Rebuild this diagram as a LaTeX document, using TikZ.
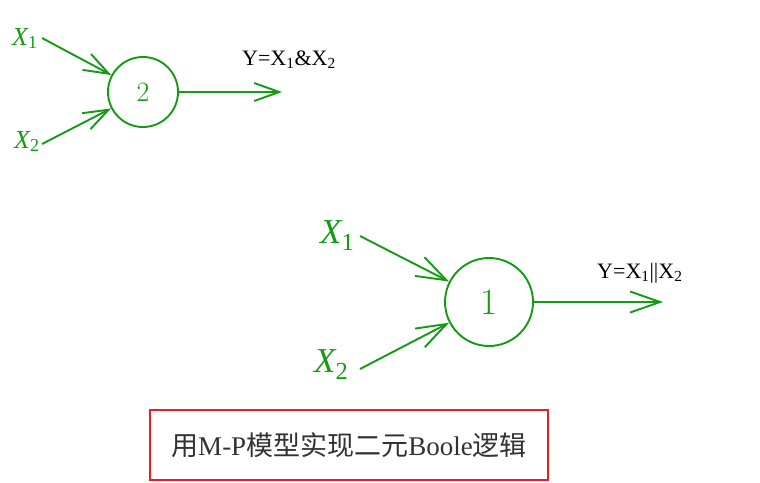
\documentclass[tikz,border=0pt]{standalone}
\usepackage{fontspec}
\setmainfont{Liberation Serif}
\newfontfamily\cjk{Noto Sans CJK SC}
\newfontfamily\lmfont{Latin Modern Roman}
\usetikzlibrary{arrows.meta}
\definecolor{mpgreen}{RGB}{20,155,20}
\definecolor{mpred}{RGB}{230,30,40}
\definecolor{mptext}{RGB}{50,50,50}
\newcommand{\xsub}[1]{\textsubscript{\upshape #1}}
\begin{document}
\begin{tikzpicture}[x=1pt,y=-1pt,
  neuron/.style={circle,draw=mpgreen,line width=1.9pt,inner sep=0pt,text=mpgreen},
  xlab/.style={text=mpgreen,inner sep=0pt,anchor=base west},
  ylab/.style={text=black,inner sep=0pt,anchor=base west,font=\fontsize{22}{26}\selectfont},
  conn/.style={draw=mpgreen,line width=1.9pt},
  tipA/.style={-{Straight Barb[length=25pt,width=18pt,line width=1.9pt]}},
  tipB/.style={-{Straight Barb[length=30pt,width=21pt,line width=1.9pt]}}]
\useasboundingbox (0,0) rectangle (760,482);
% top neuron
\node[neuron,minimum size=70pt,font=\lmfont\fontsize{28}{30}\selectfont] (c2) at (143,92) {2};
\node[xlab,font=\itshape\fontsize{26}{28}\selectfont] (ta) at (12,45) {X\xsub{1}};
\node[xlab,font=\itshape\fontsize{26}{28}\selectfont] (tb) at (14,148) {X\xsub{2}};
\coordinate (sa) at (42,38);
\coordinate (sb) at (42,144);
\coordinate (o2) at (282,92);
\draw[conn,tipA] (sa) -- (c2);
\draw[conn,tipA] (sb) -- (c2);
\draw[conn,tipA] (c2) -- (o2);
\node[ylab] (y2) at (242,65) {Y=X\textsubscript{1}\&X\textsubscript{2}};
% bottom neuron
\node[neuron,minimum size=88pt,font=\lmfont\fontsize{37}{40}\selectfont] (c1) at (489,302) {1};
\node[xlab,font=\itshape\fontsize{35}{38}\selectfont] (ba) at (320,243) {X\xsub{1}};
\node[xlab,font=\itshape\fontsize{35}{38}\selectfont] (bb) at (314,372) {X\xsub{2}};
\coordinate (ua) at (360,236);
\coordinate (ub) at (360,369);
\coordinate (o1) at (663,302);
\draw[conn,tipB] (ua) -- (c1);
\draw[conn,tipB] (ub) -- (c1);
\draw[conn,tipB] (c1) -- (o1);
\node[ylab] (y1) at (597,278) {Y=X\textsubscript{1}||X\textsubscript{2}};
% caption box
\node[draw=mpred,line width=1.5pt,minimum width=398pt,minimum height=70pt,inner sep=0pt,text=mptext,
  font=\fontsize{27}{30}\selectfont] (cap) at (349,445)
  {{\cjk 用}M-P{\cjk 模型实现二元}Boole{\cjk 逻辑}};
\end{tikzpicture}
\end{document}
